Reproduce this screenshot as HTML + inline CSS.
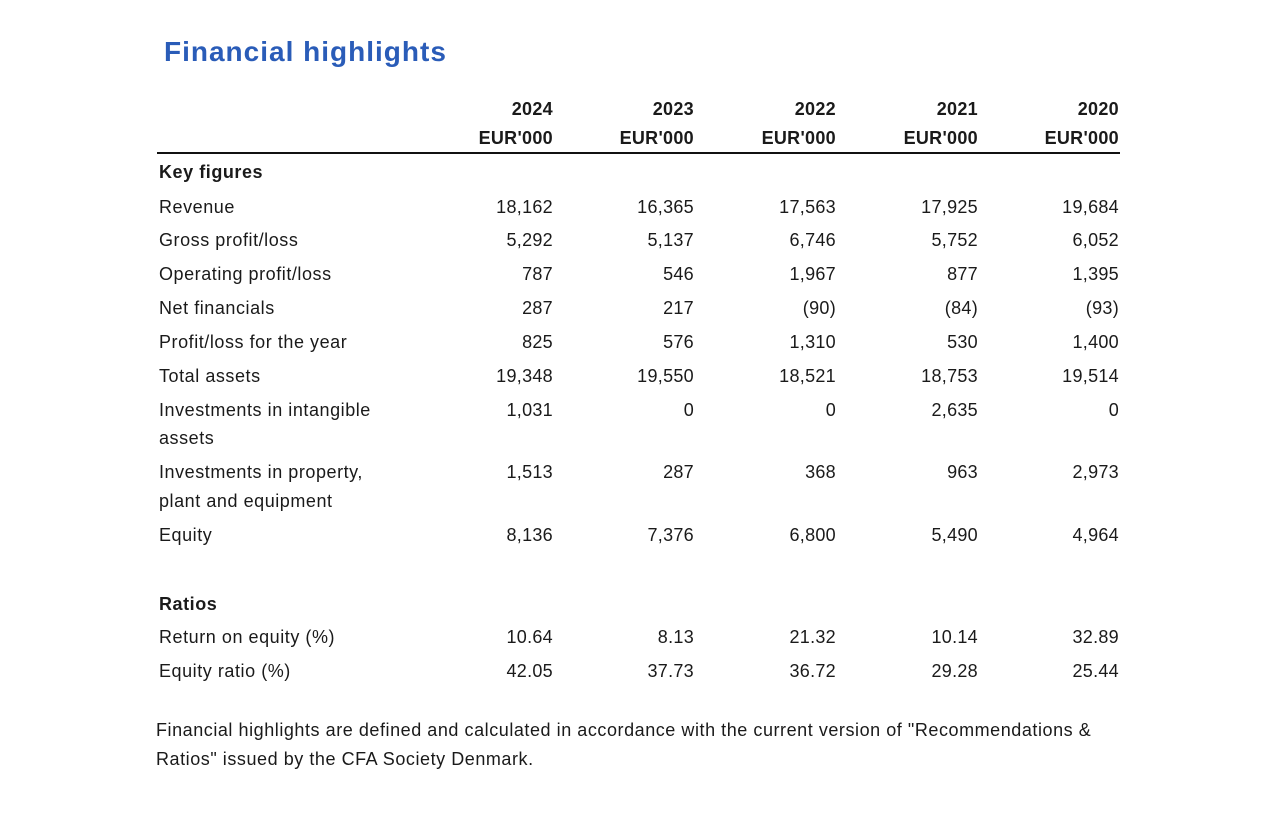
<!DOCTYPE html>
<html><head><meta charset="utf-8"><style>
body{margin:0;width:1280px;height:818px;background:#fff;position:relative;font-family:"Liberation Sans",sans-serif;color:#1a1a1a;overflow:hidden}
.t{position:absolute;white-space:nowrap;font-size:18px;line-height:20px;letter-spacing:0.55px}
.r{text-align:right;width:120px;letter-spacing:0.3px}
.b{font-weight:bold}
</style></head><body>
<div class="t b" style="left:164px;top:36px;font-size:28px;line-height:32px;color:#2a5cb8;letter-spacing:1px">Financial highlights</div>
<div style="position:absolute;left:157px;top:152px;width:963px;height:2px;background:#111"></div>
<div id="c"></div>
<script>
const cols=[553,694,836,978,1119];
let h='';
function cell(x,y,txt,cls){h+=`<div class="t r ${cls||''}" style="left:${x-120}px;top:${y-10}px">${txt}</div>`;}
function lab(y,txt,cls){h+=`<div class="t ${cls||''}" style="left:159px;top:${y-10}px">${txt}</div>`;}
['2024','2023','2022','2021','2020'].forEach((y,i)=>{cell(cols[i],109,y,'b');cell(cols[i],138,"EUR'000",'b');});
lab(172,'Key figures','b');
const rows=[
[207,'Revenue',['18,162','16,365','17,563','17,925','19,684']],
[240,'Gross profit/loss',['5,292','5,137','6,746','5,752','6,052']],
[274,'Operating profit/loss',['787','546','1,967','877','1,395']],
[308,'Net financials',['287','217','(90)','(84)','(93)']],
[342,'Profit/loss for the year',['825','576','1,310','530','1,400']],
[376,'Total assets',['19,348','19,550','18,521','18,753','19,514']],
[410,'Investments in intangible',['1,031','0','0','2,635','0']],
[472,'Investments in property,',['1,513','287','368','963','2,973']],
[535,'Equity',['8,136','7,376','6,800','5,490','4,964']],
[637,'Return on equity (%)',['10.64','8.13','21.32','10.14','32.89']],
[671,'Equity ratio (%)',['42.05','37.73','36.72','29.28','25.44']]];
rows.forEach(r=>{lab(r[0],r[1]);r[2].forEach((v,i)=>cell(cols[i],r[0],v));});
lab(438,'assets');lab(501,'plant and equipment');
lab(604,'Ratios','b');
h+=`<div class="t" style="left:156px;top:716px;line-height:29px;white-space:normal;width:1000px">Financial highlights are defined and calculated in accordance with the current version of "Recommendations &amp;<br>Ratios" issued by the CFA Society Denmark.</div>`;
document.getElementById('c').innerHTML=h;
</script>
</body></html>
